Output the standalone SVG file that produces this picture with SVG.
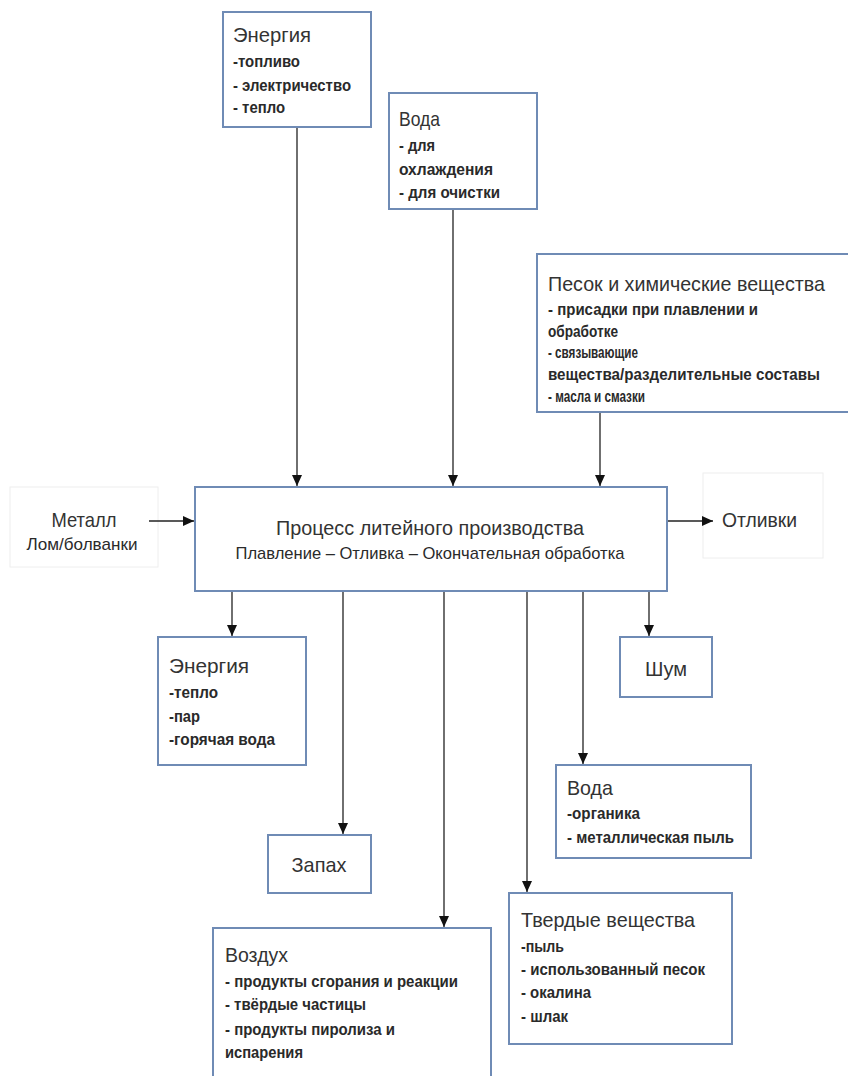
<svg xmlns="http://www.w3.org/2000/svg" width="848" height="1076" viewBox="0 0 848 1076">
<defs>
<marker id="arr" markerUnits="userSpaceOnUse" markerWidth="12" markerHeight="10" refX="11" refY="5" orient="auto">
<path d="M0,0 L11,5 L0,10 Z" fill="#111"/>
</marker>
<style>
.box{fill:#fff;stroke:#6f8bb5;stroke-width:2}
.faint{fill:#fff;stroke:#eeeeee;stroke-width:1}
.t{font-family:"Liberation Sans",Arial,sans-serif;font-size:21px;fill:#333}
.i{font-family:"Liberation Sans",Arial,sans-serif;font-size:16px;font-weight:bold;fill:#2a2a2a}
.s{font-family:"Liberation Sans",Arial,sans-serif;font-size:17px;fill:#2a2a2a}
.c{text-anchor:middle}
.ln{stroke:#222;stroke-width:1.3;fill:none;marker-end:url(#arr)}
</style>
</defs>
<rect width="848" height="1076" fill="#fff"/>

<g id="energy-in">
<rect class="box" x="223" y="12" width="148" height="115"/>
<text class="t" x="233" y="42" textLength="78" lengthAdjust="spacingAndGlyphs">Энергия</text>
<text class="i" x="233" y="67" textLength="67" lengthAdjust="spacingAndGlyphs">-топливо</text>
<text class="i" x="233" y="91" textLength="118" lengthAdjust="spacingAndGlyphs">- электричество</text>
<text class="i" x="233" y="113" textLength="52" lengthAdjust="spacingAndGlyphs">- тепло</text>
</g>

<g id="water-in">
<rect class="box" x="389" y="93" width="148" height="116"/>
<text class="t" x="399" y="126" textLength="41" lengthAdjust="spacingAndGlyphs">Вода</text>
<text class="i" x="399" y="151" textLength="36" lengthAdjust="spacingAndGlyphs">- для</text>
<text class="i" x="399" y="175" textLength="94" lengthAdjust="spacingAndGlyphs">охлаждения</text>
<text class="i" x="399" y="198" textLength="101" lengthAdjust="spacingAndGlyphs">- для очистки</text>
</g>

<g id="sand-in">
<rect class="box" x="537" y="254" width="320" height="158"/>
<text class="t" x="548" y="291" textLength="277" lengthAdjust="spacingAndGlyphs">Песок и химические вещества</text>
<text class="i" x="548" y="315" textLength="210" lengthAdjust="spacingAndGlyphs">- присадки при плавлении и</text>
<text class="i" x="548" y="337" textLength="70" lengthAdjust="spacingAndGlyphs">обработке</text>
<text class="i" x="548" y="358" textLength="90" lengthAdjust="spacingAndGlyphs">- связывающие</text>
<text class="i" x="548" y="380" textLength="272" lengthAdjust="spacingAndGlyphs">вещества/разделительные составы</text>
<text class="i" x="548" y="402" textLength="97" lengthAdjust="spacingAndGlyphs">- масла и смазки</text>
</g>

<g id="metal">
<rect class="faint" x="10" y="487" width="148" height="80"/>
<text class="t c" x="84" y="527" textLength="65" lengthAdjust="spacingAndGlyphs">Металл</text>
<text class="s c" x="82" y="550" textLength="111" lengthAdjust="spacingAndGlyphs">Лом/болванки</text>
</g>

<g id="process">
<rect class="box" x="195" y="487" width="472" height="104"/>
<text class="t c" x="430" y="535" textLength="308" lengthAdjust="spacingAndGlyphs">Процесс литейного производства</text>
<text class="s c" x="430" y="559" textLength="389" lengthAdjust="spacingAndGlyphs">Плавление – Отливка – Окончательная обработка</text>
</g>

<g id="castings">
<rect class="faint" x="703" y="473" width="120" height="85"/>
<text class="t" x="722" y="527" textLength="75" lengthAdjust="spacingAndGlyphs">Отливки</text>
</g>

<g id="energy-out">
<rect class="box" x="158" y="637" width="148" height="128"/>
<text class="t" x="169" y="673" textLength="80" lengthAdjust="spacingAndGlyphs">Энергия</text>
<text class="i" x="169" y="698" textLength="49" lengthAdjust="spacingAndGlyphs">-тепло</text>
<text class="i" x="169" y="722" textLength="31" lengthAdjust="spacingAndGlyphs">-пар</text>
<text class="i" x="169" y="745" textLength="106" lengthAdjust="spacingAndGlyphs">-горячая вода</text>
</g>

<g id="noise">
<rect class="box" x="620" y="637" width="92" height="60"/>
<text class="t c" x="666" y="676" textLength="42" lengthAdjust="spacingAndGlyphs">Шум</text>
</g>

<g id="water-out">
<rect class="box" x="556" y="765" width="195" height="93"/>
<text class="t" x="567" y="795" textLength="46" lengthAdjust="spacingAndGlyphs">Вода</text>
<text class="i" x="567" y="819" textLength="73" lengthAdjust="spacingAndGlyphs">-органика</text>
<text class="i" x="567" y="843" textLength="167" lengthAdjust="spacingAndGlyphs">- металлическая пыль</text>
</g>

<g id="smell">
<rect class="box" x="268" y="835" width="103" height="58"/>
<text class="t c" x="319" y="872" textLength="55" lengthAdjust="spacingAndGlyphs">Запах</text>
</g>

<g id="air">
<rect class="box" x="213" y="928" width="278" height="160"/>
<text class="t" x="225" y="962" textLength="63" lengthAdjust="spacingAndGlyphs">Воздух</text>
<text class="i" x="225" y="987" textLength="233" lengthAdjust="spacingAndGlyphs">- продукты сгорания и реакции</text>
<text class="i" x="225" y="1010" textLength="141" lengthAdjust="spacingAndGlyphs">- твёрдые частицы</text>
<text class="i" x="225" y="1035" textLength="170" lengthAdjust="spacingAndGlyphs">- продукты пиролиза и</text>
<text class="i" x="225" y="1058" textLength="78" lengthAdjust="spacingAndGlyphs">испарения</text>
</g>

<g id="solids">
<rect class="box" x="509" y="893" width="223" height="151"/>
<text class="t" x="521" y="927" textLength="174" lengthAdjust="spacingAndGlyphs">Твердые вещества</text>
<text class="i" x="521" y="952" textLength="43" lengthAdjust="spacingAndGlyphs">-пыль</text>
<text class="i" x="521" y="975" textLength="184" lengthAdjust="spacingAndGlyphs">- использованный песок</text>
<text class="i" x="521" y="998" textLength="70" lengthAdjust="spacingAndGlyphs">- окалина</text>
<text class="i" x="521" y="1022" textLength="47" lengthAdjust="spacingAndGlyphs">- шлак</text>
</g>

<g id="connectors">
<line class="ln" x1="297" y1="128" x2="297" y2="486"/>
<line class="ln" x1="453" y1="210" x2="453" y2="486"/>
<line class="ln" x1="600" y1="413" x2="600" y2="486"/>
<line class="ln" x1="149" y1="521" x2="194" y2="521"/>
<line class="ln" x1="668" y1="521" x2="713" y2="521"/>
<line class="ln" x1="232" y1="592" x2="232" y2="636"/>
<line class="ln" x1="343" y1="592" x2="343" y2="834"/>
<line class="ln" x1="444" y1="592" x2="444" y2="927"/>
<line class="ln" x1="527" y1="592" x2="527" y2="892"/>
<line class="ln" x1="583" y1="592" x2="583" y2="764"/>
<line class="ln" x1="649" y1="592" x2="649" y2="636"/>
</g>
</svg>
